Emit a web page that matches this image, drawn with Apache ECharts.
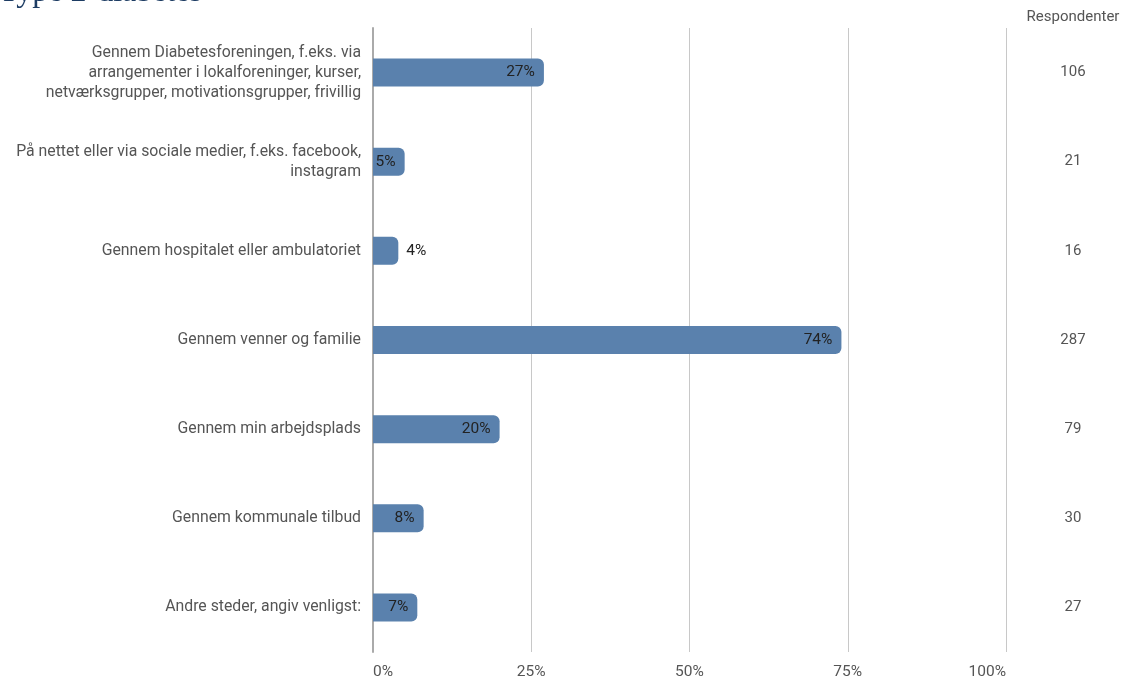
<!DOCTYPE html>
<html><head><meta charset="utf-8">
<script src="https://cdn.jsdelivr.net/npm/echarts@6/dist/echarts.min.js"></script>
<style>html,body{margin:0;padding:0;background:#fff}#c{width:1138px;height:682px}</style>
</head><body><div id="c"></div>
<script>
const categories = [
  "Gennem Diabetesforeningen, f.eks. via\narrangementer i lokalforeninger, kurser,\nnetværksgrupper, motivationsgrupper, frivillig",
  "På nettet eller via sociale medier, f.eks. facebook,\ninstagram",
  "Gennem hospitalet eller ambulatoriet",
  "Gennem venner og familie",
  "Gennem min arbejdsplads",
  "Gennem kommunale tilbud",
  "Andre steder, angiv venligst:"
];
const percentValues = [27, 5, 4, 74, 20, 8, 7];
const respondents = [106, 21, 16, 287, 79, 30, 27];
const xTicks = [0, 25, 50, 75, 100];
const titleText = "Type 2-diabetes";
const respondentHeader = "Respondenter";

const chart = echarts.init(document.getElementById('c'));
const font = 'Roboto';
chart.setOption({
  animation: false,
  graphic: [{
    type: 'text', x: -1, y: 9,
    style: { text: titleText, font: '32px "Liberation Serif"', fill: '#1d3c63', textVerticalAlign: 'bottom' }
  }, {
    type: 'text', x: 1073, y: 17,
    style: { text: respondentHeader, font: '15px Roboto', fill: '#555', textAlign: 'center', textVerticalAlign: 'middle' }
  }],
  grid: { left: 373, right: 132, top: 28, bottom: 30 },
  xAxis: {
    type: 'value', min: 0, max: 100, interval: 25,
    axisLine: { show: false }, axisTick: { show: false },
    splitLine: { lineStyle: { color: '#c8c8c8', width: 1 } },
    axisLabel: { formatter: v => v + '%', color: '#555', fontFamily: font, fontSize: 15.5, margin: 12,
      alignMinLabel: 'left', alignMaxLabel: 'right' }
  },
  yAxis: [{
    type: 'category', data: categories, inverse: true,
    axisLine: { show: true, lineStyle: { color: '#aaa', width: 2 } },
    axisTick: { show: false },
    axisLabel: { color: '#555', fontFamily: font, fontSize: 15.8, lineHeight: 20, margin: 12, align: 'right' }
  }, {
    type: 'category', data: respondents.map(String), inverse: true, position: 'right',
    axisLine: { show: false }, axisTick: { show: false },
    axisLabel: { color: '#555', fontFamily: font, fontSize: 15, margin: 67, align: 'center' }
  }],
  series: [{
    type: 'bar', data: percentValues.map((v, i) => ({
      value: v,
      label: i === 2 ? { position: 'right', distance: 8 } : {}
    })),
    barWidth: 28,
    itemStyle: { color: '#5a81ad', borderRadius: [0, 6, 6, 0] },
    label: { show: true, position: 'insideRight', distance: 9, formatter: '{c}%', color: '#222', fontFamily: font, fontSize: 15.5 }
  }]
});
</script></body></html>
